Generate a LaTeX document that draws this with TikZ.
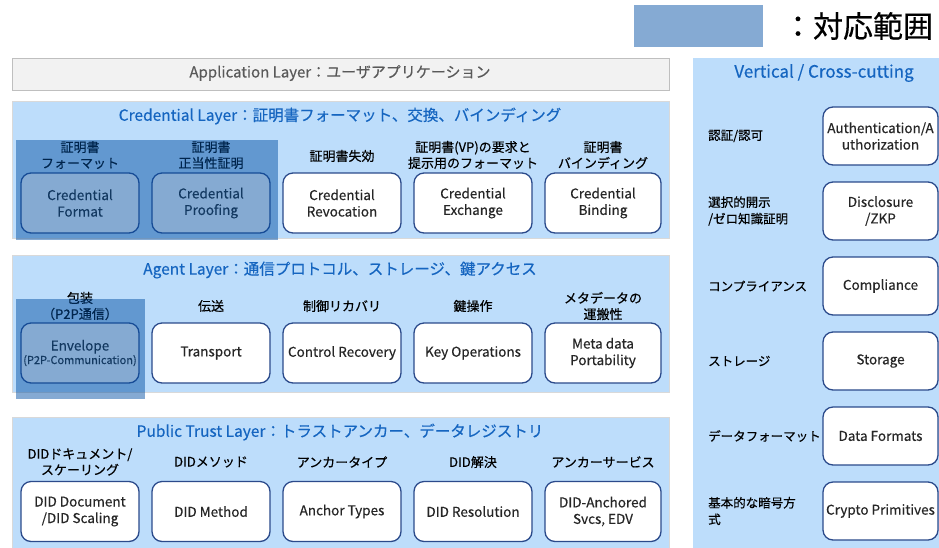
\documentclass[tikz,border=0pt]{standalone}
\usepackage{fontspec}
\setmainfont{Noto Sans CJK JP}[FakeBold=0.4]
\usepackage{tikz}
\usetikzlibrary{positioning}

\definecolor{bandblue}{HTML}{BDDDFB}
\definecolor{appgray}{HTML}{F2F2F2}
\definecolor{titleblue}{HTML}{1565C0}
\definecolor{boxline}{HTML}{2B4A8B}
\definecolor{hlblue}{RGB}{0,78,162}

\tikzset{
  band/.style={rectangle,draw=black!15,line width=0.8pt,fill=bandblue,anchor=north west,inner sep=0pt},
  ttl/.style={text=titleblue,font=\fontsize{15.5}{19}\selectfont},
  comp/.style={rectangle,rounded corners=10pt,draw=boxline,line width=1.3pt,fill=white,
    minimum width=118pt,minimum height=60pt,align=center,inner sep=1pt,
    text=black!85,font=\fontsize{13.5}{16.5}\selectfont},
  vcomp/.style={comp,minimum width=115pt,minimum height=58pt},
  lbl/.style={align=center,inner sep=0pt,font=\fontsize{13}{16}\selectfont},
  vlbl/.style={align=left,anchor=west,inner sep=0pt,font=\fontsize{12.5}{16.5}\selectfont},
  hl/.style={fill=hlblue,fill opacity=0.48}
}

\begin{document}
\begin{tikzpicture}[x=1pt,y=-1pt]
\useasboundingbox (0,0) rectangle (939,547);

% legend
\node (legtxt) at (858,26) {\fontsize{30}{33}\selectfont ：対応範囲};

% application layer
\node (app) at (12,58) [band,fill=appgray,draw=black!25,minimum width=657pt,minimum height=32pt] {};
\node (apptxt) at (340,73) [text=black!65,font=\fontsize{15}{18}\selectfont] {Application Layer：ユーザアプリケーション};

% credential layer
\node (cred) at (12,101) [band,minimum width=657pt,minimum height=137pt] {};
\node (credtxt) at (340,116) [ttl] {Credential Layer：証明書フォーマット、交換、バインディング};
\node (lcf) at (80,155) [lbl] {証明書\\フォーマット};
\node (lcp) at (211,155) [lbl] {証明書\\正当性証明};
\node (lcrev) at (342,156) [lbl] {証明書失効};
\node (lcex) at (473,155) [lbl] {証明書(VP)の要求と\\提示用のフォーマット};
\node (lcbind) at (603,155) [lbl] {証明書\\バインディング};
\node (cf) at (80,203) [comp] {Credential\\Format};
\node (cp) at (211,203) [comp] {Credential\\Proofing};
\node (crev) at (342,203) [comp] {Credential\\Revocation};
\node (cex) at (473,203) [comp] {Credential\\Exchange};
\node (cbind) at (603,203) [comp,minimum width=116pt] {Credential\\Binding};

% agent layer
\node (agent) at (12,255) [band,minimum width=657pt,minimum height=137pt] {};
\node (agenttxt) at (340,270) [ttl] {Agent Layer：通信プロトコル、ストレージ、鍵アクセス};
\node (lenv) at (80,306) [lbl] {包装\\（P2P通信）};
\node (ltrans) at (211,306) [lbl] {伝送};
\node (lcrec) at (342,306) [lbl] {制御リカバリ};
\node (lkeyop) at (473,306) [lbl] {鍵操作};
\node (lmeta) at (603,306) [lbl] {メタデータの\\運搬性};
\node (env) at (80,353) [comp] {Envelope\\[-3pt]{\fontsize{11}{13}\selectfont(P2P-Communication)}};
\node (trans) at (211,353) [comp] {Transport};
\node (crec) at (342,353) [comp] {Control Recovery};
\node (keyop) at (473,353) [comp] {Key Operations};
\node (meta) at (603,353) [comp,minimum width=116pt] {Meta data\\Portability};

% public trust layer
\node (pub) at (12,417) [band,minimum width=657pt,minimum height=135pt] {};
\node (pubtxt) at (340,432) [ttl] {Public Trust Layer：トラストアンカー、データレジストリ};
\node (ldiddoc) at (80,462) [lbl] {DIDドキュメント/\\スケーリング};
\node (ldidmeth) at (211,462) [lbl] {DIDメソッド};
\node (lanchor) at (342,462) [lbl] {アンカータイプ};
\node (ldidres) at (473,462) [lbl] {DID解決};
\node (ldidsvc) at (603,462) [lbl] {アンカーサービス};
\node (diddoc) at (80,511.5) [comp] {DID Document\\/DID Scaling};
\node (didmeth) at (211,511.5) [comp] {DID Method};
\node (anchor) at (342,511.5) [comp] {Anchor Types};
\node (didres) at (473,511.5) [comp] {DID Resolution};
\node (didsvc) at (603,511.5) [comp,minimum width=116pt] {DID-Anchored\\Svcs, EDV};

% vertical / cross-cutting
\node (vert) at (693,58) [band,draw=none,minimum width=250pt,minimum height=495pt] {};
\node (verttxt) at (824,73) [ttl,font=\fontsize{17}{20}\selectfont] {Vertical / Cross-cutting};
\node (lauth) at (708,136) [vlbl] {認証/認可};
\node (lzkp) at (708,211) [vlbl] {選択的開示\\/ゼロ知識証明};
\node (lcompl) at (708,286) [vlbl] {コンプライアンス};
\node (lstor) at (708,361) [vlbl] {ストレージ};
\node (ldform) at (708,436) [vlbl] {データフォーマット};
\node (lcrypto) at (708,511) [vlbl] {基本的な暗号方\\式};
\node (auth) at (880.5,136) [vcomp] {Authentication/A\\uthorization};
\node (zkp) at (880.5,211) [vcomp] {Disclosure\\/ZKP};
\node (compl) at (880.5,286) [vcomp] {Compliance};
\node (stor) at (880.5,361) [vcomp] {Storage};
\node (dform) at (880.5,436) [vcomp] {Data Formats};
\node (crypto) at (880.5,511) [vcomp] {Crypto Primitives};

% coverage highlight
\fill[hl] (634,5) rectangle (763,47);
\fill[hl] (16,140) rectangle (278,240);
\fill[hl] (16,299) rectangle (145,399);
\end{tikzpicture}
\end{document}
